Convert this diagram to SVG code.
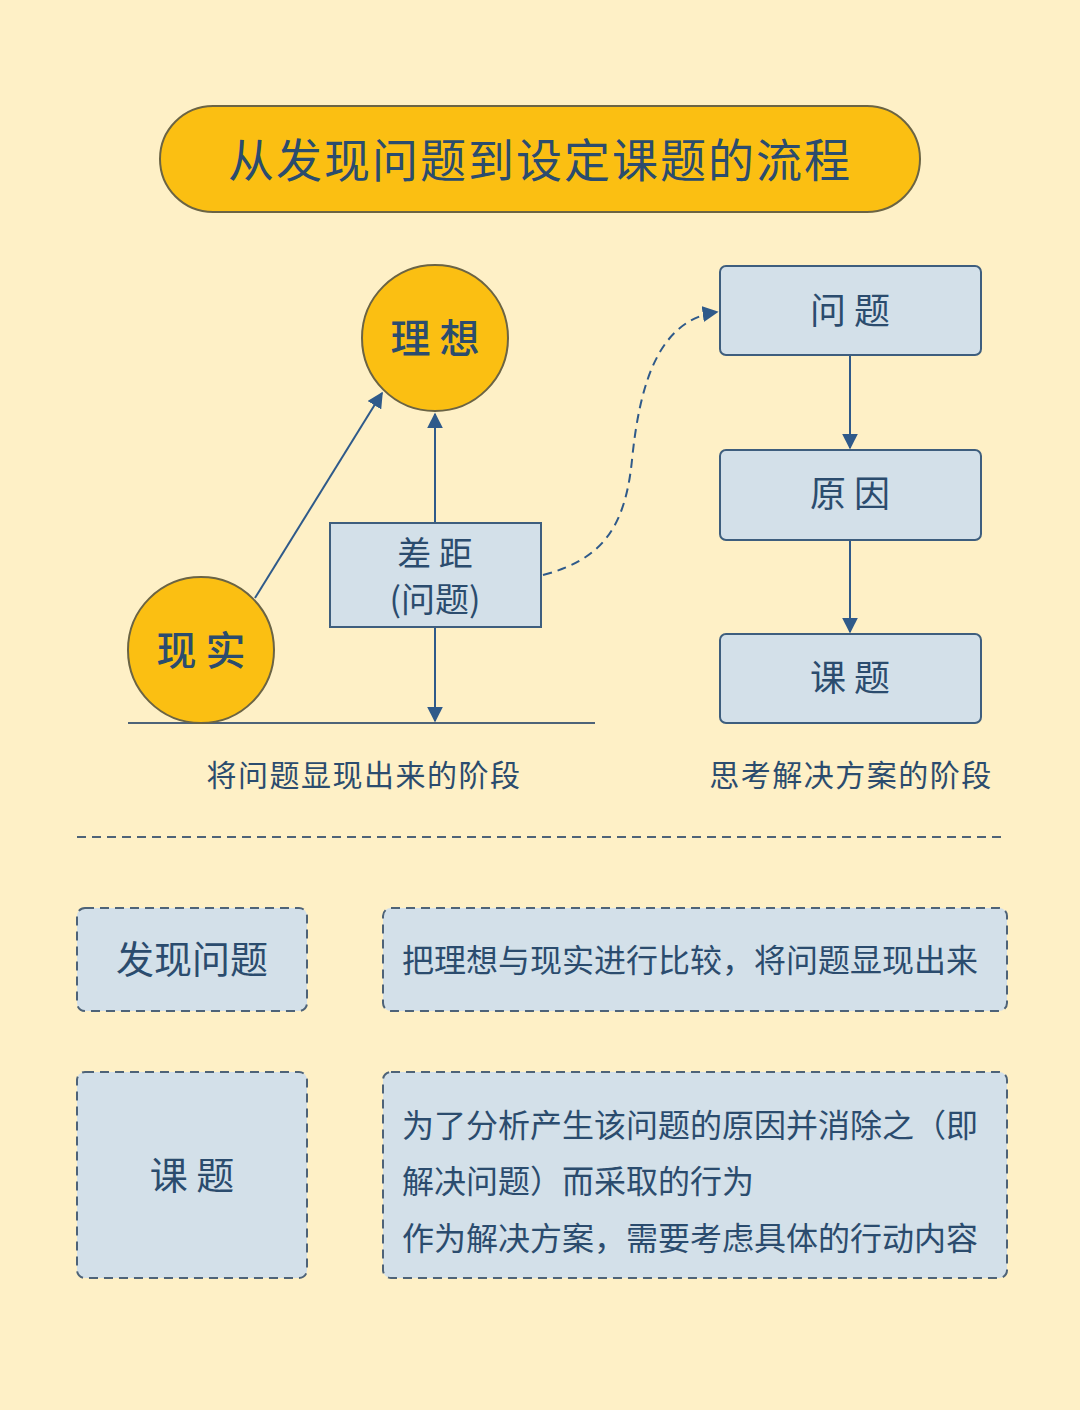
<svg xmlns="http://www.w3.org/2000/svg" width="1080" height="1410" viewBox="0 0 1080 1410">
<defs>
<style>
text{font-family:"Noto Sans CJK SC","Liberation Sans",sans-serif;fill:#2B4C6E}
.c{fill:#FBBF12;stroke:#6B6444;stroke-width:2}
.b{fill:#D3E0E9;stroke:#3E5E7E;stroke-width:2}
.d{fill:#D3E0E9;stroke:#4E6378;stroke-width:2;stroke-dasharray:9 6}
.l{stroke:#2F5A8A;stroke-width:2;fill:none}
</style>
<marker id="a" viewBox="0 0 10 10" refX="9" refY="5" markerWidth="8" markerHeight="8" orient="auto"><path d="M0,0L10,5L0,10z" fill="#2F5A8A"/></marker>
</defs>
<rect width="1080" height="1410" fill="#FEF0C6"/>
<g id="title"><rect x="160" y="106" width="760" height="106" rx="53" class="c"/><text x="540" y="177" font-size="46" letter-spacing="2" text-anchor="middle">从发现问题到设定课题的流程</text></g>
<g id="connectors">
<line x1="128" y1="723" x2="595" y2="723" stroke="#4E6378" stroke-width="2"/>
<line x1="255" y1="598" x2="382" y2="393" class="l" marker-end="url(#a)"/>
<line x1="435" y1="523" x2="435" y2="414" class="l" marker-end="url(#a)"/>
<line x1="435" y1="627" x2="435" y2="721" class="l" marker-end="url(#a)"/>
<path d="M543,575 C600,560 625,530 632,460 C640,380 660,320 717,312" class="l" stroke-width="2.2" stroke-dasharray="9 6" marker-end="url(#a)"/>
<line x1="850" y1="356" x2="850" y2="448" class="l" marker-end="url(#a)"/>
<line x1="850" y1="541" x2="850" y2="632" class="l" marker-end="url(#a)"/>
<line x1="77" y1="837" x2="1003" y2="837" stroke="#4E6378" stroke-width="2" stroke-dasharray="9 6"/>
</g>
<g id="ideal"><circle cx="435" cy="338" r="73" class="c"/><text x="435" y="353" font-size="40" text-anchor="middle" font-weight="500">理 想</text></g>
<g id="reality"><circle cx="201" cy="650" r="73" class="c"/><text x="201" y="665" font-size="40" text-anchor="middle" font-weight="500">现 实</text></g>
<g id="gap"><rect x="330" y="523" width="211" height="104" class="b"/><text x="435" y="566" font-size="34" text-anchor="middle">差 距</text><text x="435" y="612" font-size="34" text-anchor="middle">(问题)</text></g>
<g id="q"><rect x="720" y="266" width="261" height="89" rx="6" class="b"/><text x="850" y="324" font-size="36" text-anchor="middle">问 题</text></g>
<g id="cause"><rect x="720" y="450" width="261" height="90" rx="6" class="b"/><text x="850" y="507" font-size="36" text-anchor="middle">原 因</text></g>
<g id="task"><rect x="720" y="634" width="261" height="89" rx="6" class="b"/><text x="850" y="691" font-size="36" text-anchor="middle">课 题</text></g>
<g id="captions"><text x="364" y="786" font-size="30" letter-spacing="1.5" text-anchor="middle">将问题显现出来的阶段</text><text x="851" y="786" font-size="30" letter-spacing="1.5" text-anchor="middle">思考解决方案的阶段</text></g>
<g id="r1l"><rect x="77" y="908" width="230" height="103" rx="8" class="d"/><text x="192" y="973" font-size="38" text-anchor="middle">发现问题</text></g>
<g id="r1r"><rect x="383" y="908" width="624" height="103" rx="8" class="d"/><text x="402" y="972" font-size="32">把理想与现实进行比较，将问题显现出来</text></g>
<g id="r2l"><rect x="77" y="1072" width="230" height="206" rx="8" class="d"/><text x="192" y="1189" font-size="38" text-anchor="middle">课 题</text></g>
<g id="r2r"><rect x="383" y="1072" width="624" height="206" rx="8" class="d"/>
<text x="402" y="1137" font-size="32">为了分析产生该问题的原因并消除之（即</text>
<text x="402" y="1193" font-size="32">解决问题）而采取的行为</text>
<text x="402" y="1250" font-size="32">作为解决方案，需要考虑具体的行动内容</text></g>
</svg>
